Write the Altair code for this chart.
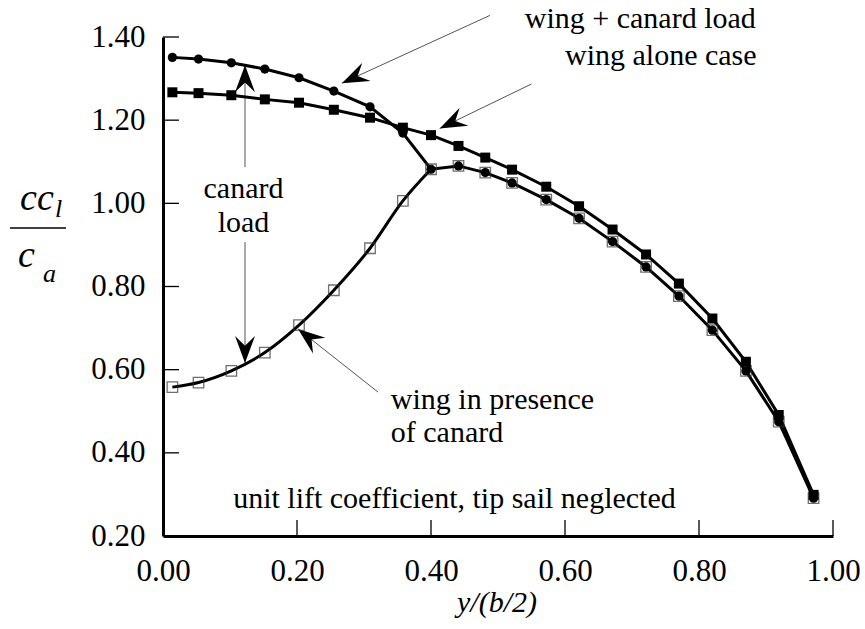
import math
import altair as alt
import pandas as pd

# ---------------- data ----------------
span = [0.014, 0.053, 0.102, 0.152, 0.203, 0.255, 0.309, 0.358, 0.400, 0.441,
        0.481, 0.521, 0.572, 0.621, 0.671, 0.721, 0.770, 0.820, 0.870, 0.919, 0.971]
wing_alone = [1.267, 1.265, 1.260, 1.250, 1.242, 1.225, 1.206, 1.182, 1.164, 1.138,
              1.110, 1.081, 1.040, 0.993, 0.937, 0.877, 0.807, 0.723, 0.619, 0.491, 0.299]
wing_canard = [1.351, 1.347, 1.338, 1.323, 1.302, 1.270, 1.232, 1.169, 1.082, 1.090,
               1.074, 1.049, 1.009, 0.964, 0.908, 0.847, 0.777, 0.695, 0.597, 0.475, 0.291]
wing_presence = [0.558, 0.569, 0.597, 0.641, 0.707, 0.791, 0.892, 1.006, 1.082, 1.090,
                 1.074, 1.049, 1.009, 0.964, 0.908, 0.847, 0.777, 0.695, 0.597, 0.475, 0.291]

x_tick_values = [0.0, 0.2, 0.4, 0.6, 0.8, 1.0]
y_tick_values = [0.2, 0.4, 0.6, 0.8, 1.0, 1.2, 1.4]

# annotation texts
left_text = ["wing + canard load", "wing alone case", "wing in presence", "of canard"]
left_x = [0.540, 0.600, 0.340, 0.340]
left_y = [1.422, 1.333, 0.505, 0.427]
center_text = ["canard", "load", "unit lift coefficient, tip sail neglected"]
center_x = [0.1201, 0.1201, 0.435]
center_y = [1.013, 0.932, 0.267]

# arrows (tail -> tip)
arrow_tail_x = [0.488, 0.550, 0.1224, 0.1224, 0.321]
arrow_tail_y = [1.452, 1.287, 1.087, 0.907, 0.546]
arrow_tip_x = [0.267, 0.413, 0.1224, 0.1224, 0.2015]
arrow_tip_y = [1.289, 1.180, 1.332, 0.616, 0.698]

# axis titles
x_title = "y/(b/2)"
x_title_pos = (0.4985, 0.017)
ytitle_big = ["cc", "c"]
ytitle_big_x = [-0.2134, -0.2164]
ytitle_big_y = [0.984, 0.847]
ytitle_sub = ["l", "a"]
ytitle_sub_x = [-0.1612, -0.1791]
ytitle_sub_y = [0.967, 0.811]
frac_x = [-0.2284, -0.1448]
frac_y = 0.9407

# ---------------- layout ----------------
W, H = 670, 499
X_DOM = [0.0, 1.0]
Y_DOM = [0.2, 1.4]
FONT = "Liberation Serif"
PXX = W / (X_DOM[1] - X_DOM[0])
PXY = H / (Y_DOM[1] - Y_DOM[0])

xs = alt.Scale(domain=X_DOM, nice=False, zero=False)
ys = alt.Scale(domain=Y_DOM, nice=False, zero=False)

df = pd.DataFrame({"x": span, "alone": wing_alone, "canard": wing_canard,
                   "presence": wing_presence})
df_pres_curve = df[df["x"] <= 0.4001]

x_axis = alt.Axis(values=x_tick_values, format=".2f", title=None, grid=False,
                  ticks=False, tickSize=0, labelPadding=20, labelFont=FONT,
                  labelFontSize=31, labelColor="black", domainColor="black",
                  domainWidth=3, labelFlush=False, labelOverlap=False)
y_axis = alt.Axis(values=y_tick_values, format=".2f", title=None, grid=False,
                  ticks=False, tickSize=0, labelPadding=18, labelFont=FONT,
                  labelFontSize=31, labelColor="black", domainColor="black",
                  domainWidth=3, labelFlush=False, labelOverlap=False)

base = alt.Chart(df)

axes = base.mark_point(opacity=0).encode(
    x=alt.X("x:Q", scale=xs, axis=x_axis),
    y=alt.Y("alone:Q", scale=ys, axis=y_axis),
)

line_alone = base.mark_line(color="black", strokeWidth=3).encode(
    x=alt.X("x:Q", scale=xs), y=alt.Y("alone:Q", scale=ys), order="x:Q")
line_canard = base.mark_line(color="black", strokeWidth=3).encode(
    x=alt.X("x:Q", scale=xs), y=alt.Y("canard:Q", scale=ys), order="x:Q")
line_pres = alt.Chart(df_pres_curve).mark_line(
    color="black", strokeWidth=3, interpolate="monotone").encode(
    x=alt.X("x:Q", scale=xs), y=alt.Y("presence:Q", scale=ys), order="x:Q")

pts_pres = base.mark_point(shape="square", filled=False, color="#333",
                           strokeWidth=1.3, size=110).encode(
    x=alt.X("x:Q", scale=xs), y=alt.Y("presence:Q", scale=ys))
pts_alone = base.mark_point(shape="square", filled=True, color="black",
                            opacity=1, size=100).encode(
    x=alt.X("x:Q", scale=xs), y=alt.Y("alone:Q", scale=ys))
pts_canard = base.mark_point(shape="circle", filled=True, color="black",
                             opacity=1, size=85).encode(
    x=alt.X("x:Q", scale=xs), y=alt.Y("canard:Q", scale=ys))

# inward ticks
ytick_df = pd.DataFrame({"v": [v for v in y_tick_values if v > Y_DOM[0]]})
xtick_df = pd.DataFrame({"v": [v for v in x_tick_values if v > X_DOM[0]]})
yticks = alt.Chart(ytick_df).mark_rule(color="black", strokeWidth=1.3).encode(
    y=alt.Y("v:Q", scale=ys), x=alt.value(0), x2=alt.value(16))
xticks = alt.Chart(xtick_df).mark_rule(color="black", strokeWidth=1.3).encode(
    x=alt.X("v:Q", scale=xs), y=alt.value(H), y2=alt.value(H - 16))

# arrows
angles = []
for sx, sy, tx, ty in zip(arrow_tail_x, arrow_tail_y, arrow_tip_x, arrow_tip_y):
    a = math.degrees(math.atan2((tx - sx) * PXX, (ty - sy) * PXY)) % 360
    angles.append(a)
arr_df = pd.DataFrame({"sx": arrow_tail_x, "sy": arrow_tail_y,
                       "tx": arrow_tip_x, "ty": arrow_tip_y, "ang": angles})
arrow_lines = alt.Chart(arr_df).mark_rule(color="#555", strokeWidth=1).encode(
    x=alt.X("sx:Q", scale=xs), y=alt.Y("sy:Q", scale=ys),
    x2="tx:Q", y2="ty:Q")
HEAD = "M0,0 L0.74,2 L0,1.28 L-0.74,2 Z"
arrow_heads = alt.Chart(arr_df).mark_point(
    shape=HEAD, filled=True, color="black", opacity=1, size=729, strokeWidth=0).encode(
    x=alt.X("tx:Q", scale=xs), y=alt.Y("ty:Q", scale=ys),
    angle=alt.Angle("ang:Q", scale=None))

# texts
ldf = pd.DataFrame({"t": left_text, "x": left_x, "y": left_y})
cdf = pd.DataFrame({"t": center_text, "x": center_x, "y": center_y})
txt_left = alt.Chart(ldf).mark_text(align="left", baseline="alphabetic", font=FONT,
                                    fontSize=30, color="black").encode(
    x=alt.X("x:Q", scale=xs), y=alt.Y("y:Q", scale=ys), text="t:N")
txt_center = alt.Chart(cdf).mark_text(align="center", baseline="alphabetic", font=FONT,
                                      fontSize=30, color="black").encode(
    x=alt.X("x:Q", scale=xs), y=alt.Y("y:Q", scale=ys), text="t:N")

xt_df = pd.DataFrame({"t": [x_title], "x": [x_title_pos[0]], "y": [x_title_pos[1]]})
xtitle = alt.Chart(xt_df).mark_text(align="center", baseline="alphabetic", font=FONT,
                                    fontSize=30, fontStyle="italic", color="black").encode(
    x=alt.X("x:Q", scale=xs), y=alt.Y("y:Q", scale=ys), text="t:N")

yb_df = pd.DataFrame({"t": ytitle_big, "x": ytitle_big_x, "y": ytitle_big_y})
ys_df = pd.DataFrame({"t": ytitle_sub, "x": ytitle_sub_x, "y": ytitle_sub_y})
ytitle_big_m = alt.Chart(yb_df).mark_text(align="left", baseline="alphabetic", font=FONT,
                                          fontSize=38, fontStyle="italic", color="black").encode(
    x=alt.X("x:Q", scale=xs), y=alt.Y("y:Q", scale=ys), text="t:N")
ytitle_sub_m = alt.Chart(ys_df).mark_text(align="left", baseline="alphabetic", font=FONT,
                                          fontSize=26, fontStyle="italic", color="black").encode(
    x=alt.X("x:Q", scale=xs), y=alt.Y("y:Q", scale=ys), text="t:N")
frac_df = pd.DataFrame({"x": [frac_x[0]], "x2": [frac_x[1]], "y": [frac_y]})
frac_line = alt.Chart(frac_df).mark_rule(color="black", strokeWidth=1.5).encode(
    x=alt.X("x:Q", scale=xs), x2="x2:Q", y=alt.Y("y:Q", scale=ys))

chart = alt.layer(
    axes, xticks, yticks, arrow_lines, arrow_heads,
    line_alone, line_canard, line_pres,
    pts_pres, pts_alone, pts_canard,
    txt_left, txt_center, xtitle, ytitle_big_m, ytitle_sub_m, frac_line,
).properties(
    width=W, height=H,
    autosize=alt.AutoSizeParams(type="none"),
    padding={"left": 163, "top": 37, "right": 32, "bottom": 93},
).configure(
    font=FONT,
).configure_view(
    strokeWidth=0,
)

chart.save("out.html", embed_options={"renderer": "svg", "actions": False})
